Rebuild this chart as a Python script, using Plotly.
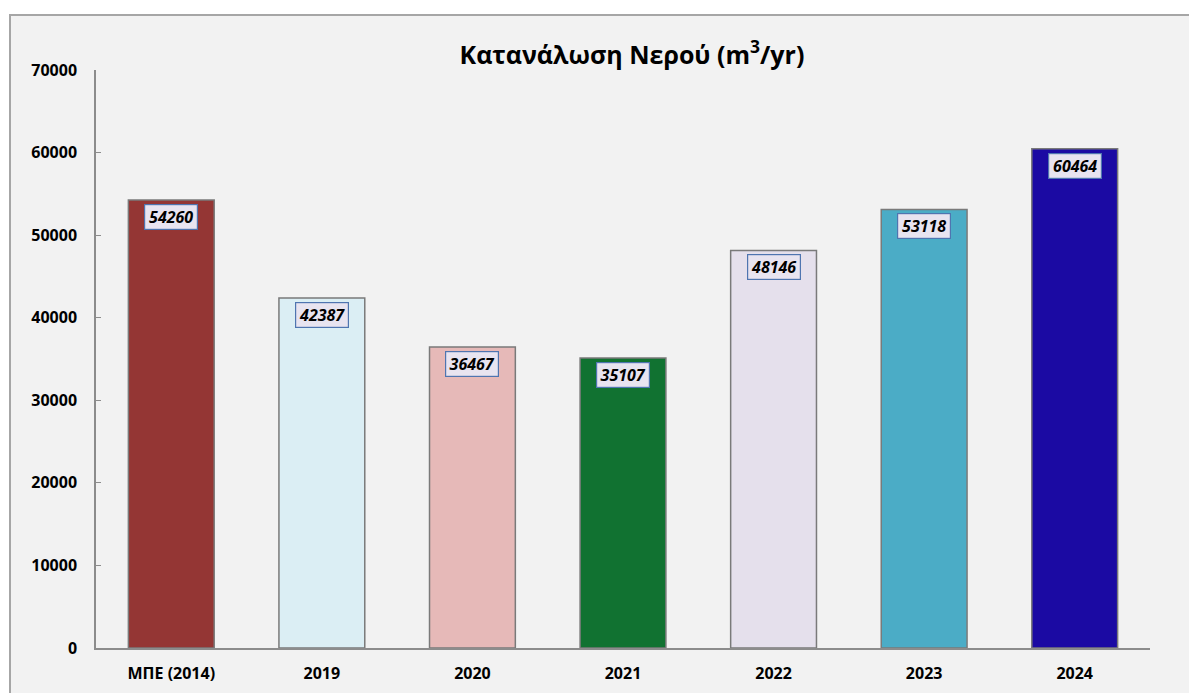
import plotly.graph_objects as go

categories = ["ΜΠΕ (2014)", "2019", "2020", "2021", "2022", "2023", "2024"]
values = [54260, 42387, 36467, 35107, 48146, 53118, 60464]
colors = ["#943634", "#DBEEF4", "#E6B9B8", "#117231", "#E5E0EC", "#4BACC6", "#1B0AA3"]
y_ticks = [0, 10000, 20000, 30000, 40000, 50000, 60000, 70000]

OFF = 8  # page body margin
W, H = 1197 - OFF, 693 - OFF
L, T = 96 - OFF, 70 - OFF
R = W - (1150 - OFF)
B = H - (648 - OFF)
pw, ph = W - L - R, H - T - B

xpos = list(range(len(categories)))

fig = go.Figure()
fig.add_trace(go.Bar(
    x=xpos, y=values,
    marker=dict(color=colors, line=dict(color="#7a7a7a", width=1.5)),
    width=0.57,
    customdata=categories,
    hovertemplate="%{customdata}: %{y}<extra></extra>",
))

for i, v in zip(xpos, values):
    fig.add_annotation(
        x=i, y=v, xref="x", yref="y",
        text=f"<b><i>{v}</i></b>",
        showarrow=False, yanchor="top", yshift=-4,
        width=50, height=22, align="center", valign="middle",
        font=dict(family="Open Sans", size=16, color="black"),
        bgcolor="#E8E4F0", bordercolor="#4F75B0", borderwidth=1.2, borderpad=1,
    )

# chart panel
fig.add_shape(
    type="rect", xref="paper", yref="paper", layer="below",
    x0=(10 - 96) / pw, x1=1.3, y0=-0.3, y1=1 + (70 - 15) / ph,
    fillcolor="#F2F2F2", line=dict(color="#A6A6A6", width=2),
)

fig.update_layout(
    width=W, height=H,
    margin=dict(l=L, r=R, t=T, b=B),
    paper_bgcolor="white", plot_bgcolor="rgba(0,0,0,0)",
    showlegend=False,
    title=dict(
        text="<b>Κατανάλωση Νερού (m<sup>3</sup>/yr)</b>",
        x=(632 - 96) / pw, xref="paper", xanchor="center",
        y=1 - (55 - OFF) / H, yref="container", yanchor="middle",
        font=dict(family="Open Sans", size=25, color="black"),
    ),
    font=dict(family="Open Sans", color="black"),
)
fig.update_xaxes(
    range=[-0.5, len(categories) - 0.5],
    tickvals=xpos, ticktext=categories, automargin=False,
    showline=True, linecolor="#8C8C8C", linewidth=1.5,
    showgrid=False, ticks="", zeroline=False,
    tickfont=dict(family="Open Sans", size=16, color="black", weight="bold"),
    ticklabelstandoff=10,
)
fig.update_yaxes(
    range=[0, 70000], tickvals=y_ticks, ticktext=[str(t) for t in y_ticks],
    automargin=False,
    showline=True, linecolor="#8C8C8C", linewidth=1.5,
    ticks="inside", ticklen=5, tickcolor="#8C8C8C",
    showgrid=False, zeroline=False,
    tickfont=dict(family="Open Sans", size=16, color="black", weight="bold"),
    ticklabelstandoff=14,
)

fig.write_html("out.html")
